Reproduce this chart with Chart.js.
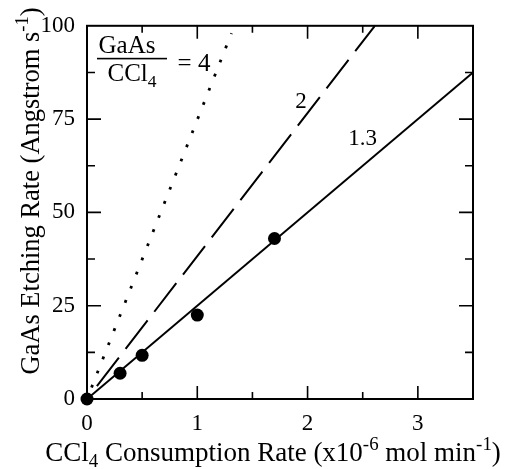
<!DOCTYPE html>
<html>
<head>
<meta charset="utf-8">
<script src="https://cdn.jsdelivr.net/npm/chart.js@4.4.1/dist/chart.umd.min.js"></script>
<style>
  html, body { margin: 0; padding: 0; background: #fff; }
</style>
</head>
<body>
<canvas id="etch-chart" width="506" height="469"></canvas>
<script>
// Measured GaAs etch rate vs CCl4 consumption
const consumption = [0, 0.3, 0.5, 1.0, 1.7];
const etchRate = [0, 6.9, 11.7, 22.5, 43];

// Straight lines for GaAs/CCl4 ratios (start and end points)
const ratio13X = [0, 3.5];
const ratio13Y = [0, 87.5];
const ratio2X = [0, 2.61];
const ratio2Y = [0, 100];
const ratio4X = [0, 1.31];
const ratio4Y = [0, 98];

// Tick labels on each axis
const xTickLabels = [0, 1, 2, 3];
const yTickLabels = [0, 25, 50, 75, 100];

const SERIF = '"Liberation Serif", "Times New Roman", serif';

// zip two arrays into {x, y} points
function toPoints(xs, ys) {
    return xs.map((x, i) => ({ x: x, y: ys[i] }));
}

// draw a run of text pieces, some raised or lowered (super/subscripts)
function drawRich(ctx, parts, x, y, size) {
    const widths = parts.map(p => {
        ctx.font = (p.small ? size * 0.7 : size) + 'px ' + SERIF;
        return ctx.measureText(p.t).width;
    });
    let cx = x - widths.reduce((a, b) => a + b, 0) / 2;
    parts.forEach((p, i) => {
        ctx.font = (p.small ? size * 0.7 : size) + 'px ' + SERIF;
        ctx.fillText(p.t, cx, y + (p.dy || 0));
        cx += widths[i];
    });
}

// Frame with inward ticks on all four sides
const framePlugin = {
    id: 'frame',
    beforeDatasetsDraw(chart) {
        const { ctx, chartArea: a, scales } = chart;
        ctx.save();
        ctx.strokeStyle = '#000';
        ctx.lineWidth = 2;
        ctx.strokeRect(a.left, a.top, a.right - a.left, a.bottom - a.top);
        ctx.lineWidth = 1.6;
        ctx.beginPath();
        for (let v = 0.5; v < 3.5; v += 0.5) {
            const px = scales.x.getPixelForValue(v);
            const len = Number.isInteger(v) ? 13 : 7;
            ctx.moveTo(px, a.bottom); ctx.lineTo(px, a.bottom - len);
            ctx.moveTo(px, a.top); ctx.lineTo(px, a.top + len);
        }
        for (let v = 12.5; v < 100; v += 12.5) {
            const py = scales.y.getPixelForValue(v);
            const len = v % 25 === 0 ? 14 : 8;
            ctx.moveTo(a.left, py); ctx.lineTo(a.left + len, py);
            ctx.moveTo(a.right, py); ctx.lineTo(a.right - len, py);
        }
        ctx.stroke();
        ctx.restore();
    },
    afterDraw(chart) {
        const { ctx, chartArea: a, scales } = chart;
        ctx.save();
        ctx.fillStyle = '#000';
        ctx.textBaseline = 'alphabetic';

        // x axis title
        drawRich(ctx, [
            { t: 'CCl' }, { t: '4', small: true, dy: 6 },
            { t: ' Consumption Rate (x10' }, { t: '-6', small: true, dy: -11 },
            { t: ' mol min' }, { t: '-1', small: true, dy: -11 }, { t: ')' }
        ], 273, 461, 27);

        // y axis title, rotated
        ctx.save();
        ctx.translate(39, 191);
        ctx.rotate(-Math.PI / 2);
        drawRich(ctx, [
            { t: 'GaAs Etching Rate (Angstrom s' }, { t: '-1', small: true, dy: -11 }, { t: ')' }
        ], 0, 0, 26.5);
        ctx.restore();

        // ratio labels
        const fx = a.left, fy = a.top;
        drawRich(ctx, [{ t: 'GaAs' }], fx + 40, fy + 27, 25);
        ctx.fillRect(fx + 10, fy + 32, 70, 1.6);
        drawRich(ctx, [{ t: 'CCl' }, { t: '4', small: true, dy: 6 }], fx + 45, fy + 55, 25);
        drawRich(ctx, [{ t: '= 4' }], fx + 107, fy + 45, 25);

        ctx.font = '23px ' + SERIF;
        ctx.textBaseline = 'middle';
        drawRich(ctx, [{ t: '2' }], scales.x.getPixelForValue(1.94), scales.y.getPixelForValue(79.5), 23);
        drawRich(ctx, [{ t: '1.3' }], scales.x.getPixelForValue(2.5), scales.y.getPixelForValue(69.6), 23);
        ctx.restore();
    }
};

const ctx = document.getElementById('etch-chart').getContext('2d');
const chart = new Chart(ctx, {
    type: 'scatter',
    data: {
        datasets: [
            {
                data: toPoints(ratio4X, ratio4Y),
                showLine: true, pointRadius: 0,
                borderColor: '#000', borderWidth: 2.8,
                borderDash: [2.8, 12.4], borderDashOffset: -12.4
            },
            {
                // phase chosen so a dash finishes at the top edge
                data: toPoints(ratio2X, ratio2Y),
                showLine: true, pointRadius: 0,
                borderColor: '#000', borderWidth: 2,
                borderDash: [36, 11], borderDashOffset: 30.8
            },
            {
                data: toPoints(ratio13X, ratio13Y),
                showLine: true, pointRadius: 0,
                borderColor: '#000', borderWidth: 2
            },
            {
                data: toPoints(consumption, etchRate),
                showLine: false,
                pointRadius: 6.5, pointHoverRadius: 6.5,
                backgroundColor: '#000', borderColor: '#000', borderWidth: 0,
                clip: false
            }
        ]
    },
    options: {
        responsive: false,
        animation: false,
        devicePixelRatio: 1,
        layout: { padding: { top: 20, right: 33, left: 0, bottom: 0 } },
        plugins: { legend: { display: false }, tooltip: { enabled: false } },
        scales: {
            x: {
                type: 'linear', min: 0, max: 3.5,
                afterFit: s => { s.height = 70; },
                afterBuildTicks: s => { s.ticks = xTickLabels.map(v => ({ value: v })); },
                grid: { display: false, drawTicks: false },
                border: { display: false },
                ticks: { color: '#000', padding: 11, font: { family: SERIF, size: 23 } }
            },
            y: {
                type: 'linear', min: 0, max: 100,
                afterFit: s => { s.width = 87; },
                afterBuildTicks: s => { s.ticks = yTickLabels.map(v => ({ value: v })); },
                grid: { display: false, drawTicks: false },
                border: { display: false },
                ticks: { color: '#000', padding: 12, font: { family: SERIF, size: 23 } }
            }
        }
    },
    plugins: [framePlugin]
});
</script>
</body>
</html>
